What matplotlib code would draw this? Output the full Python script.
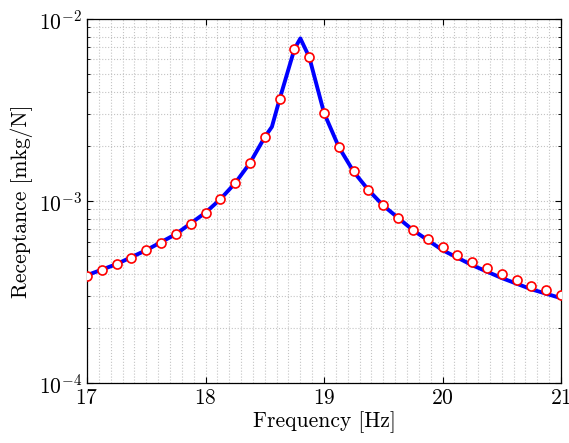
import numpy as np
import matplotlib
matplotlib.use("Agg")
import matplotlib.pyplot as plt
from matplotlib.ticker import MultipleLocator, LogLocator, NullFormatter

plt.rcParams['font.family'] = 'serif'
plt.rcParams['font.serif'] = ['cmr10', 'DejaVu Serif']
plt.rcParams['mathtext.fontset'] = 'cm'
plt.rcParams['axes.formatter.use_mathtext'] = True

# Model receptance (line)
freq_model = [17.0, 17.25, 17.5, 17.75, 18.0, 18.125, 18.25, 18.375, 18.5, 18.56,
              18.625, 18.75, 18.8, 18.875, 19.0, 19.125, 19.25, 19.375, 19.5,
              19.75, 20.0, 20.25, 20.5, 20.75, 21.0]
rec_model = [3.92e-4, 4.51e-4, 5.38e-4, 6.59e-4, 8.65e-4, 1.025e-3, 1.256e-3, 1.62e-3,
             2.25e-3, 2.56e-3, 3.63e-3, 6.84e-3, 7.83e-3, 6.18e-3, 3.05e-3, 1.98e-3,
             1.45e-3, 1.15e-3, 9.45e-4, 6.93e-4, 5.38e-4, 4.45e-4, 3.78e-4, 3.28e-4,
             2.93e-4]

# Measured receptance (markers)
freq_meas = [17.0 + 0.125 * i for i in range(33)]
rec_meas = [3.87e-4, 4.18e-4, 4.51e-4, 4.86e-4, 5.38e-4, 5.88e-4, 6.59e-4, 7.48e-4,
            8.62e-4, 1.026e-3, 1.256e-3, 1.62e-3, 2.25e-3, 3.63e-3, 6.84e-3, 6.18e-3,
            3.05e-3, 1.98e-3, 1.46e-3, 1.15e-3, 9.5e-4, 8.07e-4, 6.93e-4, 6.18e-4,
            5.59e-4, 5.05e-4, 4.62e-4, 4.28e-4, 3.97e-4, 3.68e-4, 3.41e-4, 3.24e-4,
            3.05e-4]

fig = plt.figure(figsize=(5.69, 4.43), dpi=100)
ax = fig.add_axes([0.153, 0.135, 0.833, 0.822])

ax.plot(freq_model, rec_model, color=(0, 0, 1), lw=2.8, zorder=3)
ax.plot(freq_meas, rec_meas, 'o', mfc='white', mec=(1, 0, 0), ms=6.5, mew=1.2, zorder=4)

ax.set_yscale('log')
ax.set_xlim(17, 21)
ax.set_ylim(1e-4, 1e-2)
ax.xaxis.set_major_locator(MultipleLocator(1))
ax.xaxis.set_minor_locator(MultipleLocator(0.1))
ax.yaxis.set_major_locator(LogLocator(base=10, numticks=10))
ax.yaxis.set_minor_locator(LogLocator(base=10, subs=np.arange(2, 10), numticks=20))
ax.yaxis.set_minor_formatter(NullFormatter())

ax.grid(True, which='both', ls=':', color='#c4c4c4', lw=0.8)
ax.tick_params(which='both', direction='in', top=True, right=True, labelsize=15.5)
ax.tick_params(which='major', length=4, width=0.8)
ax.tick_params(axis='y', which='minor', length=2.5, width=0.6)
ax.tick_params(axis='x', which='minor', length=0)
for s in ax.spines.values():
    s.set_linewidth(0.9)

ax.set_xlabel('Frequency [Hz]', fontsize=15.5, labelpad=3)
ax.set_ylabel('Receptance [mkg/N]', fontsize=15.5, labelpad=4)

fig.savefig('out.png', dpi=100)
